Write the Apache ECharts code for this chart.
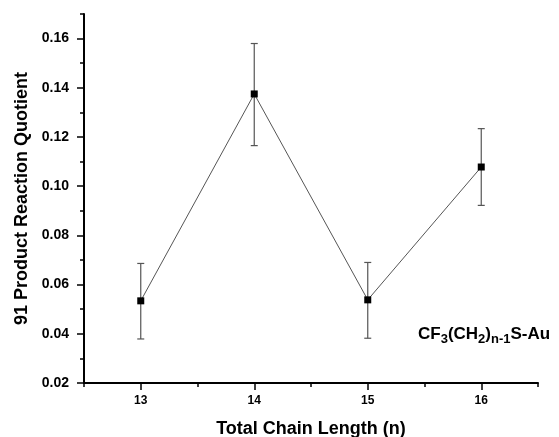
<!DOCTYPE html>
<html><head><meta charset="utf-8">
<script src="https://cdn.jsdelivr.net/npm/echarts@6/dist/echarts.min.js"></script>
<style>html,body{margin:0;padding:0;background:#fff}#c{width:559px;height:437px}</style>
</head><body><div id="c"></div>
<script>
var chainLength = [13, 14, 15, 16];
var quotient = [0.0534, 0.1375, 0.0538, 0.1078];
var errLow = [0.0379, 0.1165, 0.0382, 0.0922];
var errHigh = [0.0686, 0.1580, 0.0690, 0.1234];
var xMajorTicks = [13, 14, 15, 16];
var yMajorTicks = [0.02, 0.04, 0.06, 0.08, 0.10, 0.12, 0.14, 0.16];

var font = 'Liberation Sans, Arial, sans-serif';
var chart = echarts.init(document.getElementById('c'));
var pts = chainLength.map(function (x, i) { return [x, quotient[i]]; });
var errs = chainLength.map(function (x, i) { return [x, errLow[i], errHigh[i]]; });

chart.setOption({
  animation: false,
  grid: { left: 84, right: 21, top: 14, bottom: 54, outerBoundsMode: 'none', containLabel: false },
  xAxis: [{
    type: 'value', min: 12.5, max: 16.5, interval: 0.5,
    axisLine: { lineStyle: { color: '#000', width: 2 } },
    axisTick: { show: true, length: 4, lineStyle: { color: '#000', width: 1.5 } },
    axisLabel: { color: '#000', fontSize: 12, fontWeight: 'bold', fontFamily: font, margin: 12,
      formatter: function (v) { return Math.abs(v - Math.round(v)) < 1e-6 ? String(Math.round(v)) : ''; } },
    splitLine: { show: false },
    name: 'Total Chain Length (n)', nameLocation: 'middle', nameGap: 37,
    nameTextStyle: { color: '#000', fontSize: 18, fontWeight: 'bold', fontFamily: font }
  }, {
    type: 'value', min: 12.5, max: 16.5, position: 'bottom',
    axisLine: { show: false },
    axisTick: { show: true, length: 7, customValues: xMajorTicks, lineStyle: { color: '#000', width: 1.5 } },
    axisLabel: { show: false }, splitLine: { show: false }
  }],
  yAxis: [{
    type: 'value', min: 0.02, max: 0.17, interval: 0.01,
    axisLine: { show: true, lineStyle: { color: '#000', width: 2 } },
    axisTick: { show: true, length: 4, lineStyle: { color: '#000', width: 1.5 } },
    axisLabel: { color: '#000', fontSize: 14, fontWeight: 'bold', fontFamily: font, margin: 15,
      formatter: function (v) { var k = Math.round(v * 100); return (k % 2 === 0 && k <= 16) ? (k / 100).toFixed(2) : ''; } },
    splitLine: { show: false },
    name: '91 Product Reaction Quotient', nameLocation: 'middle', nameGap: 52,
    nameTextStyle: { color: '#000', fontSize: 18, fontWeight: 'bold', fontFamily: font }
  }, {
    type: 'value', min: 0.02, max: 0.17, position: 'left',
    axisLine: { show: false },
    axisTick: { show: true, length: 7, customValues: yMajorTicks, lineStyle: { color: '#000', width: 1.5 } },
    axisLabel: { show: false }, splitLine: { show: false }
  }],
  series: [{
    type: 'custom', xAxisIndex: 0, yAxisIndex: 0, data: errs, z: 2,
    renderItem: function (params, api) {
      var x = api.value(0);
      var lo = api.coord([x, api.value(1)]);
      var hi = api.coord([x, api.value(2)]);
      var w = 3.5;
      var st = { stroke: '#555', lineWidth: 1.2 };
      return { type: 'group', children: [
        { type: 'line', shape: { x1: lo[0], y1: lo[1], x2: hi[0], y2: hi[1] }, style: st },
        { type: 'line', shape: { x1: lo[0] - w, y1: lo[1], x2: lo[0] + w, y2: lo[1] }, style: st },
        { type: 'line', shape: { x1: hi[0] - w, y1: hi[1], x2: hi[0] + w, y2: hi[1] }, style: st }
      ]};
    }
  }, {
    type: 'line', xAxisIndex: 0, yAxisIndex: 0, data: pts, z: 3,
    symbol: 'rect', symbolSize: 7, showSymbol: true,
    lineStyle: { color: '#555', width: 1 },
    itemStyle: { color: '#000' }
  }],
  graphic: [{
    type: 'text', left: 418, top: 326, z: 10,
    style: {
      text: 'CF{s|3}(CH{s|2}){s|n-1}S-Au',
      fill: '#000', font: 'bold 17px ' + font,
      rich: { s: { fontSize: 13, fontWeight: 'bold', fontFamily: font, fill: '#000', verticalAlign: 'bottom', padding: [9, 0, 0, 0] } }
    }
  }]
});
</script></body></html>
